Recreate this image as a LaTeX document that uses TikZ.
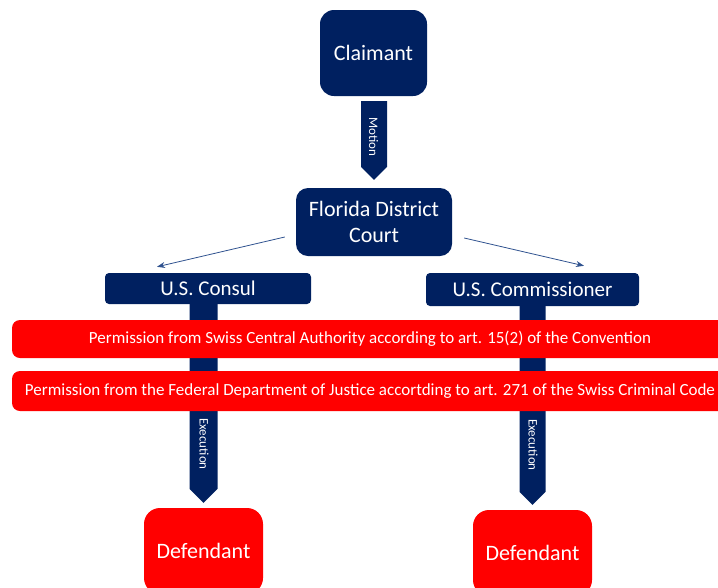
\documentclass[tikz,border=0pt]{standalone}
\usepackage{fontspec}
\setmainfont{Carlito}
\usetikzlibrary{calc,arrows.meta}
\definecolor{navy}{HTML}{002060}
\definecolor{permred}{HTML}{FF0000}
\definecolor{linkblue}{HTML}{2F528F}

\begin{document}
\begin{tikzpicture}[x=1pt,y=-1pt,>={Stealth[length=8pt,width=6pt]},
  box/.style={fill=navy,text=white,inner sep=0pt,align=center,
    font=\fontsize{22}{26}\selectfont},
  redbox/.style={box,fill=permred},
  banner/.style={redbox,minimum width=716,rounded corners=8,
    font=\fontsize{17}{20}\selectfont},
  arrowlabel/.style={text=white,rotate=-90,inner sep=0pt,
    font=\fontsize{13}{15}\selectfont},
  thinarrow/.style={->,draw=linkblue,line width=0.8}]
  \useasboundingbox (0,0) rectangle (718,587);
  \clip (0,0) rectangle (718,587);

  \node[box,rounded corners=14,minimum width=107,minimum height=86] (claimant) at (373.5,53) {Claimant};
  \node[box,rounded corners=12,minimum width=156,minimum height=68] (court) at (374,222) {Florida District\\Court};
  \node[box,rounded corners=4,minimum width=206,minimum height=31,
    font=\fontsize{21}{25}\selectfont] (consul) at (208,288.5) {U.S. Consul};
  \node[box,rounded corners=4,minimum width=213,minimum height=33,
    font=\fontsize{21}{25}\selectfont] (commissioner) at (532.5,289.5) {U.S. Commissioner};
  \node[redbox,rounded corners=16,minimum width=119,minimum height=86] (defl) at (203.5,551) {Defendant};
  \node[redbox,rounded corners=16,minimum width=119,minimum height=86] (defr) at (532.5,553) {Defendant};

  % block arrows
  \fill[navy] ($(court.north |- claimant.south)+(-13,5)$) -- ++(26,0)
    -- ($(court.north)+(13,-21)$) -- ($(court.north)+(0,-8)$)
    -- ($(court.north)+(-13,-21)$) -- cycle;
  \fill[navy] ($(defl.north |- consul.south)+(-14,0)$) -- ++(28,0)
    -- ($(defl.north)+(14,-19)$) -- ($(defl.north)+(0,-5)$)
    -- ($(defl.north)+(-14,-19)$) -- cycle;
  \fill[navy] ($(defr.north |- commissioner.south)+(-13,0)$) -- ++(26,0)
    -- ($(defr.north)+(13,-18)$) -- ($(defr.north)+(0,-5)$)
    -- ($(defr.north)+(-13,-18)$) -- cycle;
  \node[arrowlabel] (motion) at (373.5,137) {Motion};
  \node[arrowlabel] (execl) at (204,444) {Execution};
  \node[arrowlabel] (execr) at (533,445) {Execution};

  \draw[thinarrow] ($(court.west)+(-11,15)$) -- ($(consul.north)+(-51,-6)$);
  \draw[thinarrow] ($(court.east)+(12,16)$) -- ($(commissioner.north)+(51.5,-7)$);

  % permissions
  \node[banner,minimum height=38] (perm1) at (370,339) {Permission from Swiss Central Authority according to art. 15(2) of the Convention};
  \node[banner,minimum height=40] (perm2) at (370,391) {Permission from the Federal Department of Justice accortding to art. 271 of the Swiss Criminal Code};
\end{tikzpicture}
\end{document}
